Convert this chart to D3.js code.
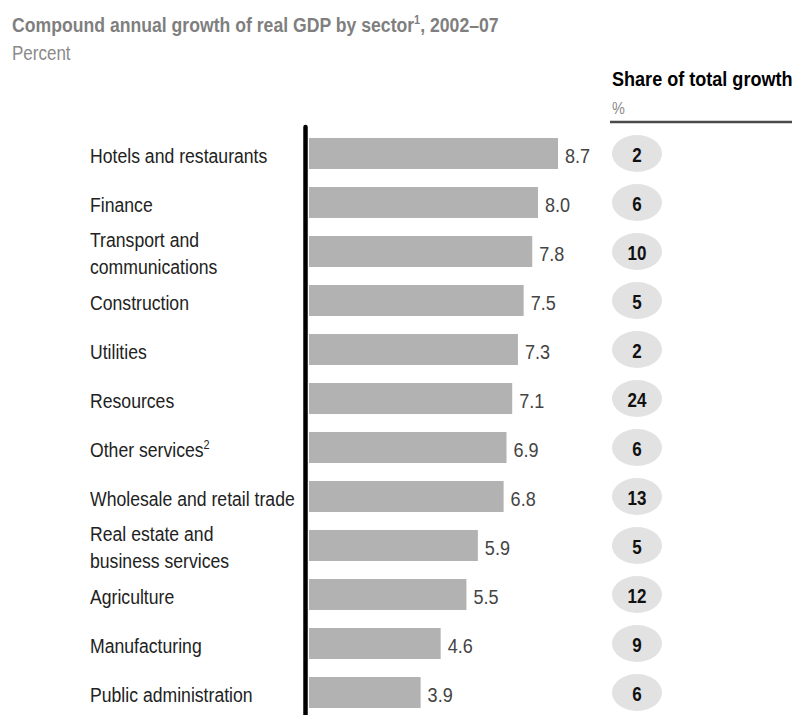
<!DOCTYPE html>
<html>
<head>
<meta charset="utf-8">
<script src="https://cdn.jsdelivr.net/npm/d3@7"></script>
<style>
  body { margin: 0; background: #fff; }
  svg { display: block; font-family: "Liberation Sans", Arial, sans-serif; }
</style>
</head>
<body>
<div id="chart"></div>
<script>
var svgWidth = 792;
var svgHeight = 715;

// data
var sectors = [
  ["Hotels and restaurants"],
  ["Finance"],
  ["Transport and", "communications"],
  ["Construction"],
  ["Utilities"],
  ["Resources"],
  ["Other services"],
  ["Wholesale and retail trade"],
  ["Real estate and", "business services"],
  ["Agriculture"],
  ["Manufacturing"],
  ["Public administration"]
];
var growth = [8.7, 8.0, 7.8, 7.5, 7.3, 7.1, 6.9, 6.8, 5.9, 5.5, 4.6, 3.9];
var share = [2, 6, 10, 5, 2, 24, 6, 13, 5, 12, 9, 6];
var footnotes = { "Other services": "2" };

var names = sectors.map(d => d.join(" "));

// no narrow font installed, so squeeze Liberation Sans horizontally
var narrow = 0.83;
function at(x, y, s) {
  return `translate(${x}, ${y}) scale(${s || narrow}, 1)`;
}

var svg = d3.select("#chart").append("svg")
  .attr("width", svgWidth)
  .attr("height", svgHeight);

var x0 = 309;
var xScale = d3.scaleLinear().domain([0, 8.7]).range([x0, 558]);
var yScale = d3.scaleBand().domain(names).range([129, 717])
  .paddingInner(0.367).paddingOuter(0.1835);
var bw = yScale.bandwidth();
var mid = d => yScale(d) + bw / 2;

// title
var title = svg.append("text")
  .attr("transform", at(12, 32, 0.84))
  .attr("fill", "#7f7f7f")
  .attr("font-weight", "bold")
  .attr("font-size", 21);
title.append("tspan").text("Compound annual growth of real GDP by sector");
title.append("tspan").attr("font-size", 13).attr("dy", -8).text("1");
title.append("tspan").attr("dy", 8).text(", 2002\u201307");

svg.append("text")
  .attr("transform", at(12, 60, 0.85))
  .attr("fill", "#8a8a8a")
  .attr("font-size", 20)
  .text("Percent");

// bars
svg.selectAll("rect.bar").data(names).enter()
  .append("rect")
  .attr("class", "bar")
  .attr("x", x0)
  .attr("y", d => yScale(d))
  .attr("width", (d, i) => xScale(growth[i]) - x0)
  .attr("height", bw)
  .attr("fill", "#b2b2b2");

// axis line
svg.append("line")
  .attr("x1", 305.5).attr("x2", 305.5)
  .attr("y1", 127).attr("y2", svgHeight)
  .attr("stroke", "#000")
  .attr("stroke-width", 4.5)
  .attr("stroke-linecap", "round");

// value labels
svg.selectAll("text.val").data(names).enter()
  .append("text")
  .attr("class", "val")
  .attr("transform", (d, i) => at(xScale(growth[i]) + 7, mid(d) + 9.5, 0.86))
  .attr("fill", "#444")
  .attr("font-size", 21)
  .text((d, i) => growth[i].toFixed(1));

// category labels
var catGroup = svg.selectAll("text.cat").data(sectors).enter()
  .append("text")
  .attr("class", "cat")
  .attr("transform", (d, i) => at(90, mid(names[i]) + (d.length > 1 ? -5 : 9.5), 0.84))
  .attr("fill", "#222")
  .attr("font-size", 21);

catGroup.each(function(d) {
  var t = d3.select(this);
  d.forEach(function(line, j) {
    t.append("tspan")
      .attr("x", 0)
      .attr("dy", j === 0 ? 0 : 28)
      .text(line);
  });
  var note = footnotes[d.join(" ")];
  if (note) {
    t.append("tspan").attr("font-size", 13).attr("dy", -8).text(note);
  }
});

// share of total growth column
svg.append("text")
  .attr("transform", at(612, 86, 0.86))
  .attr("fill", "#000")
  .attr("font-weight", "bold")
  .attr("font-size", 21)
  .text("Share of total growth");

svg.append("text")
  .attr("transform", at(612, 114, 0.85))
  .attr("fill", "#8a8a8a")
  .attr("font-size", 17)
  .text("%");

svg.append("line")
  .attr("x1", 610).attr("x2", svgWidth)
  .attr("y1", 122).attr("y2", 122)
  .attr("stroke", "#4a4a4a")
  .attr("stroke-width", 2.5);

svg.selectAll("ellipse.share").data(names).enter()
  .append("ellipse")
  .attr("class", "share")
  .attr("cx", 637)
  .attr("cy", mid)
  .attr("rx", 25)
  .attr("ry", 18.5)
  .attr("fill", "#e2e2e2");

svg.selectAll("text.share").data(names).enter()
  .append("text")
  .attr("class", "share")
  .attr("transform", d => at(637, mid(d) + 8, 0.85))
  .attr("text-anchor", "middle")
  .attr("fill", "#111")
  .attr("font-weight", "bold")
  .attr("font-size", 20)
  .text((d, i) => share[i]);
</script>
</body>
</html>
